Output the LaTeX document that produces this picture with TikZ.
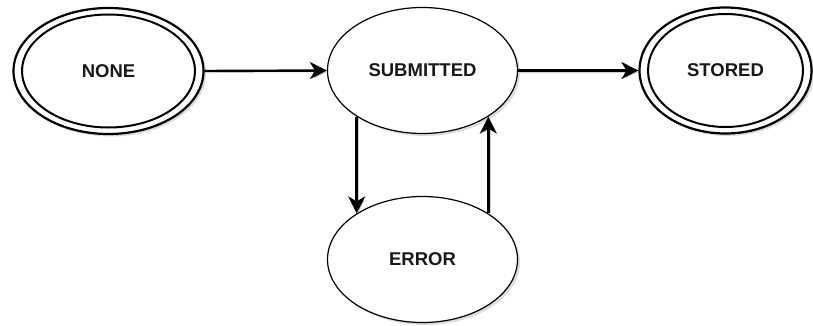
\documentclass[tikz,border=0pt]{standalone}
\usepackage{fontspec}
\setmainfont{Liberation Sans}
\usetikzlibrary{shapes.geometric,shadows,arrows.meta}

\tikzset{
  state/.style={ellipse, draw=black, fill=white, line width=1.2pt, inner sep=0pt,
    minimum width=190pt, minimum height=126pt,
    font=\fontsize{18.5}{22}\selectfont\bfseries, text=black!90,
    drop shadow={opacity=0.28, shadow xshift=2.5pt, shadow yshift=-2.5pt}},
  outerring/.style={ellipse, draw=black, fill=white, line width=2.2pt, inner sep=0pt,
    drop shadow={opacity=0.28, shadow xshift=2.5pt, shadow yshift=-2.5pt}},
  innerring/.style={ellipse, draw=black, line width=2pt, inner sep=0pt,
    font=\fontsize{18.5}{22}\selectfont\bfseries, text=black!90},
  trans/.style={line width=2.4pt, -{Stealth[length=17pt,width=17pt,inset=5pt]},
    preaction={draw=black, opacity=0.18, transform canvas={shift={(1.5pt,-1.5pt)}}}}
}

\begin{document}
\begin{tikzpicture}[x=1pt, y=-1pt]
  \useasboundingbox (0,0) rectangle (813,326);

  % initial state (double ring)
  \node[outerring, minimum width=190pt, minimum height=126pt] (none) at (108.5,71) {};
  \node[innerring, minimum width=173pt, minimum height=113pt] (nonein) at (108.5,71) {NONE};

  % final state (double ring)
  \node[outerring, minimum width=172pt, minimum height=126pt] (stored) at (725.5,70.5) {};
  \node[innerring, minimum width=155pt, minimum height=113pt] (storedin) at (725.5,70.5) {STORED};

  % intermediate states
  \node[state] (sub) at (422.5,70.5) {SUBMITTED};
  \node[state] (err) at (422.5,259.5) {ERROR};

  % transitions
  \draw[trans] (none.east) -- (sub.west);
  \draw[trans] (sub.east) -- (stored.west);
  \draw[trans] (sub.215) -- (err.145);
  \draw[trans] (err.35) -- (sub.-35);
\end{tikzpicture}
\end{document}
